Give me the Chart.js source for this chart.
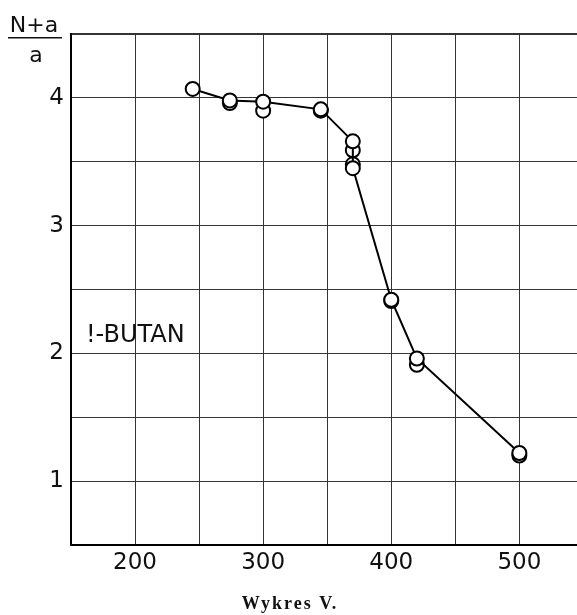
<!DOCTYPE html>
<html>
<head>
<meta charset="utf-8">
<script src="https://cdn.jsdelivr.net/npm/chart.js@4.4.1/dist/chart.umd.min.js"></script>
<style>
  html, body { margin: 0; padding: 0; background: #fff; }
  #wrap { width: 577px; height: 615px; position: relative; }
</style>
</head>
<body>
<div id="wrap"><canvas id="chart"></canvas></div>
<script>
// measured points joined by the line (volts, (N+a)/a)
const lineVolts = [245, 274, 300, 345, 370, 370, 400, 420, 500];
const lineRatio = [4.07, 3.98, 3.97, 3.91, 3.66, 3.45, 2.42, 1.96, 1.22];

// repeat readings drawn as extra circles
const extraVolts = [274, 300, 345, 370, 370, 400, 420, 500];
const extraRatio = [3.96, 3.90, 3.90, 3.59, 3.48, 2.41, 1.91, 1.20];

const xLabels = [200, 300, 400, 500];
const xGrid = [150, 200, 250, 300, 350, 400, 450, 500];
const yLabels = [1, 2, 3, 4];
const seriesLabel = '!-BUTAN';
const caption = 'Wykres V.';

const toPts = (xs, ys) => xs.map((x, i) => ({ x: x, y: ys[i] }));

// fraction axis title, series label and caption
const textPlugin = {
  id: 'texts',
  afterDraw(chart) {
    const ctx = chart.ctx;
    ctx.save();
    ctx.fillStyle = '#111';
    ctx.textAlign = 'center';
    ctx.textBaseline = 'alphabetic';
    ctx.font = '22px "DejaVu Sans"';
    ctx.fillText('N+a', 34, 32);
    ctx.fillRect(8, 37, 54, 1.5);
    ctx.fillText('a', 36, 62);

    ctx.textAlign = 'left';
    ctx.font = '24px "DejaVu Sans"';
    ctx.fillText(seriesLabel, 86, 342);

    ctx.textAlign = 'center';
    ctx.font = 'bold 18px "Liberation Serif"';
    ctx.letterSpacing = '2px';
    ctx.fillText(caption, 290, 609);
    ctx.restore();
  }
};

new Chart(document.getElementById('chart'), {
  type: 'scatter',
  data: {
    datasets: [
      {
        data: toPts(lineVolts, lineRatio),
        showLine: true,
        borderColor: '#000',
        borderWidth: 2,
        pointRadius: 7,
        pointBorderWidth: 2,
        pointBackgroundColor: '#fff',
        pointBorderColor: '#000',
        order: 1
      },
      {
        data: toPts(extraVolts, extraRatio),
        showLine: false,
        pointRadius: 7,
        pointBorderWidth: 2,
        pointBackgroundColor: '#fff',
        pointBorderColor: '#000',
        order: 2
      }
    ]
  },
  options: {
    responsive: true,
    maintainAspectRatio: false,
    animation: false,
    layout: { autoPadding: false, padding: { top: 34, right: 0, left: 0, bottom: 0 } },
    plugins: { legend: { display: false }, tooltip: { enabled: false } },
    scales: {
      x: {
        type: 'linear',
        min: 150,
        max: 545,
        afterBuildTicks: s => { s.ticks = xGrid.map(v => ({ value: v })); },
        afterFit: s => { s.height = 70; s.paddingRight = 0; s.paddingLeft = 0; },
        ticks: {
          autoSkip: false,
          maxRotation: 0,
          padding: 4,
          color: '#111',
          font: { family: 'DejaVu Sans', size: 23 },
          callback: v => xLabels.includes(v) ? String(v) : ''
        },
        grid: { color: '#333', lineWidth: 1, drawTicks: false },
        border: { color: '#000', width: 2 }
      },
      y: {
        type: 'linear',
        min: 0.5,
        max: 4.5,
        afterFit: s => { s.width = 71; s.paddingTop = 0; s.paddingBottom = 0; },
        ticks: {
          stepSize: 0.5,
          autoSkip: false,
          padding: 7,
          color: '#111',
          font: { family: 'DejaVu Sans', size: 23 },
          callback: v => yLabels.includes(v) ? String(v) : ''
        },
        grid: {
          color: '#333',
          lineWidth: c => c.tick && c.tick.value === 4.5 ? 2 : 1,
          drawTicks: false
        },
        border: { color: '#000', width: 2 }
      }
    }
  },
  plugins: [textPlugin]
});
</script>
</body>
</html>
